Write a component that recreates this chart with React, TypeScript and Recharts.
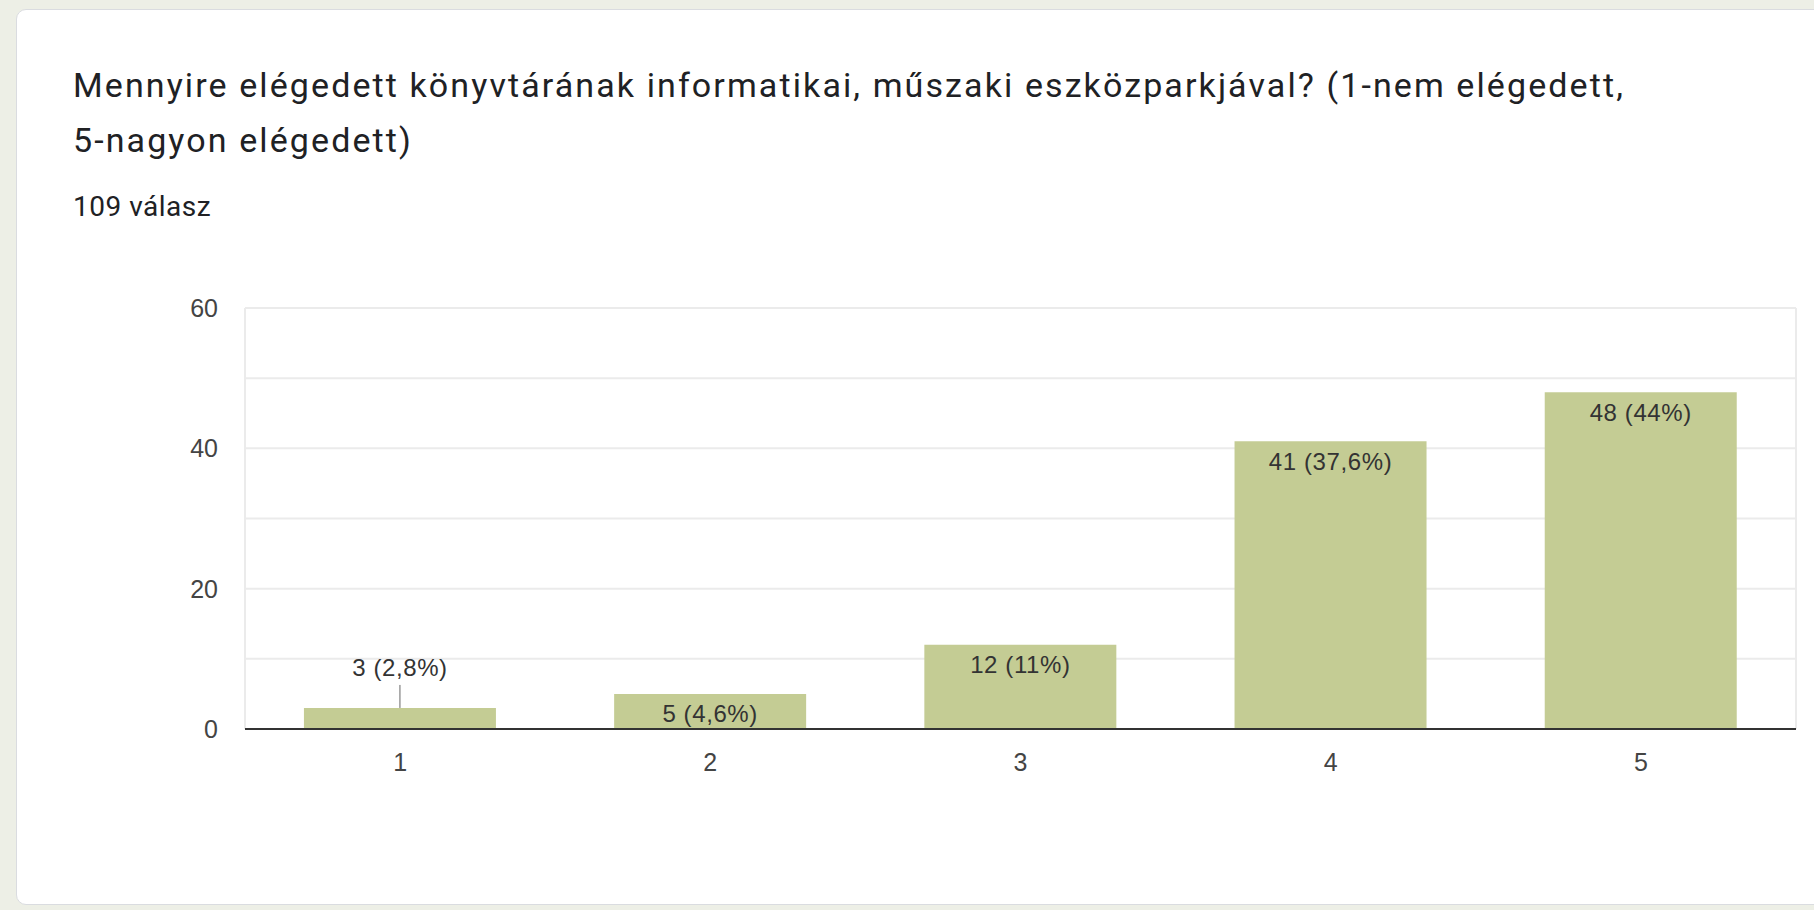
import React from 'react'
import { BarChart, Bar, XAxis, YAxis, CartesianGrid, LabelList } from 'recharts'

const categories = ['1', '2', '3', '4', '5']
const counts = [3, 5, 12, 41, 48]
const percents = ['2,8%', '4,6%', '11%', '37,6%', '44%']
const yTicks = [0, 10, 20, 30, 40, 50, 60]
const yLabeled = [0, 20, 40, 60]

const data = categories.map((c, i) => ({ name: c, value: counts[i], pct: percents[i] }))

const labelFont = '"Liberation Sans", Arial, sans-serif'

// eslint-disable-next-line @typescript-eslint/no-explicit-any
const BarValueLabel = (props: any) => {
  const { x, y, width, height, index } = props
  const text = `${counts[index]} (${percents[index]})`
  const cx = x + width / 2
  const textProps = {
    textAnchor: 'middle' as const,
    dominantBaseline: 'central' as const,
    fill: '#333',
    fontSize: 24,
    letterSpacing: 0.6,
    fontFamily: labelFont,
  }
  if (height < 30) {
    // short bar: label sits above with a small leader line
    return (
      <g>
        <line x1={cx} y1={y} x2={cx} y2={y - 23} stroke="#666" strokeWidth={1} />
        <text x={cx} y={y - 40} {...textProps}>
          {text}
        </text>
      </g>
    )
  }
  return (
    <text x={cx} y={y + 20} {...textProps}>
      {text}
    </text>
  )
}

export default function App() {
  return (
    <div style={{ position: 'absolute', left: 0, top: 0, width: 1814, height: 910, background: '#edefe6', overflow: 'hidden' }}>
      <div
        style={{
          position: 'absolute',
          left: 16,
          top: 9,
          width: 1830,
          height: 894,
          background: '#fff',
          border: '1px solid #dadce0',
          borderRadius: 10,
        }}
      />
      <div
        style={{
          position: 'absolute',
          left: 73,
          top: 58,
          width: 1740,
          fontFamily: 'Roboto, sans-serif',
          fontSize: 34,
          letterSpacing: 2.1,
          lineHeight: '55px',
          color: '#202124',
          whiteSpace: 'nowrap',
        }}
      >
        Mennyire elégedett könyvtárának informatikai, műszaki eszközparkjával? (1-nem elégedett,
        <br />
        5-nagyon elégedett)
      </div>
      <div
        style={{
          position: 'absolute',
          left: 73,
          top: 190,
          fontFamily: 'Roboto, sans-serif',
          fontSize: 28,
          letterSpacing: 0.5,
          color: '#202124',
        }}
      >
        109 válasz
      </div>
      <div style={{ position: 'absolute', left: 150, top: 280 }}>
        <BarChart width={1664} height={560} data={data} margin={{ top: 28, right: 18, left: 0, bottom: 51 }} barCategoryGap="19%">
          <CartesianGrid
            horizontal
            vertical
            stroke="#ebebeb"
            strokeWidth={2}
            // eslint-disable-next-line @typescript-eslint/no-explicit-any
            verticalCoordinatesGenerator={({ offset }: any) => [offset.left, offset.left + offset.width]}
          />
          <YAxis
            type="number"
            domain={[0, 60]}
            ticks={yTicks}
            width={95}
            axisLine={false}
            tickLine={false}
            tickMargin={21}
            tick={{ fill: '#444', fontSize: 25, fontFamily: labelFont }}
            tickFormatter={(v: number) => (yLabeled.includes(v) ? String(v) : '')}
          />
          <XAxis
            dataKey="name"
            height={60}
            axisLine={{ stroke: '#333', strokeWidth: 2 }}
            tickLine={false}
            tickMargin={18}
            tick={{ fill: '#444', fontSize: 25, fontFamily: labelFont }}
          />
          <Bar dataKey="value" fill="#c4cc94" isAnimationActive={false}>
            <LabelList dataKey="value" content={BarValueLabel} />
          </Bar>
        </BarChart>
      </div>
    </div>
  )
}
